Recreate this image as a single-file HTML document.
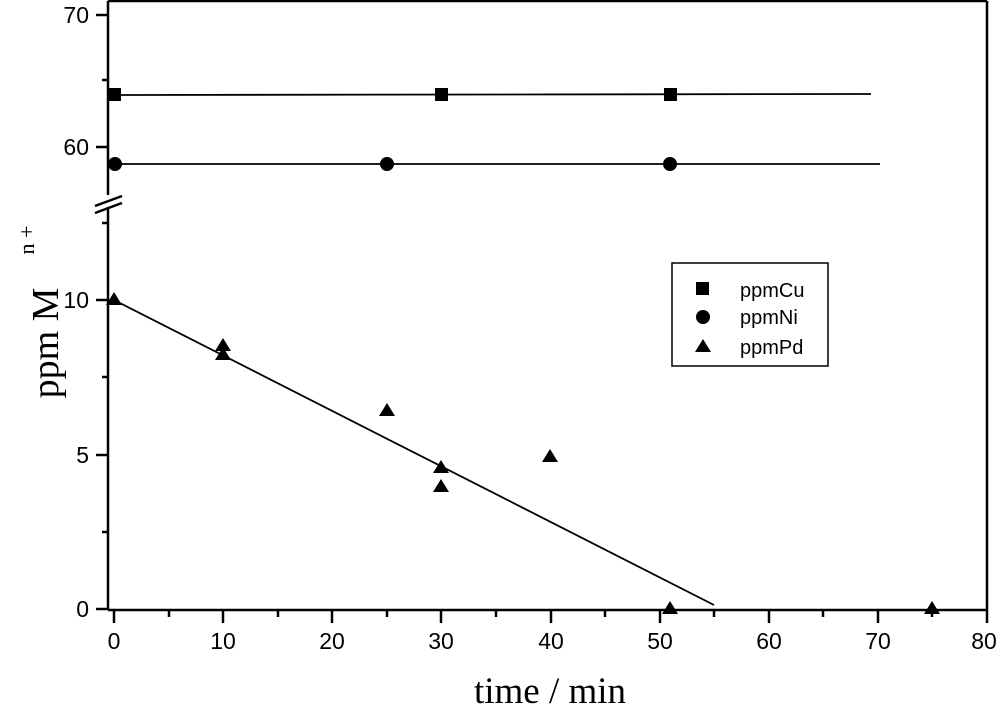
<!DOCTYPE html>
<html><head><style>body{margin:0;background:#fff}</style></head><body>
<svg width="1000" height="714" xmlns="http://www.w3.org/2000/svg" font-family="Liberation Sans, Arial, sans-serif">
<rect width="1000" height="714" fill="#fff"/>
<g stroke="#000" stroke-width="2.5" fill="none">
<line x1="108" y1="1" x2="987" y2="1"/>
<line x1="987" y1="1" x2="987" y2="610"/>
<line x1="108" y1="610" x2="987" y2="610"/>
<line x1="108" y1="1" x2="108" y2="195"/>
<line x1="108" y1="207" x2="108" y2="610"/>
</g>
<g stroke="#000" stroke-width="2.5">
<line x1="95" y1="206" x2="122" y2="196"/>
<line x1="95" y1="213" x2="122" y2="203"/>
<line x1="96" y1="15" x2="108" y2="15"/><line x1="102" y1="80" x2="108" y2="80"/><line x1="96" y1="147" x2="108" y2="147"/>
<line x1="96" y1="300" x2="108" y2="300"/><line x1="102" y1="377" x2="108" y2="377"/><line x1="96" y1="455" x2="108" y2="455"/><line x1="102" y1="532" x2="108" y2="532"/><line x1="96" y1="609" x2="108" y2="609"/><line x1="102" y1="223" x2="108" y2="223"/>
<line x1="114" y1="610" x2="114" y2="623"/><line x1="169" y1="610" x2="169" y2="617"/>
<line x1="223" y1="610" x2="223" y2="623"/><line x1="278" y1="610" x2="278" y2="617"/>
<line x1="332" y1="610" x2="332" y2="623"/><line x1="387" y1="610" x2="387" y2="617"/>
<line x1="441" y1="610" x2="441" y2="623"/><line x1="496" y1="610" x2="496" y2="617"/>
<line x1="551" y1="610" x2="551" y2="623"/><line x1="605" y1="610" x2="605" y2="617"/>
<line x1="660" y1="610" x2="660" y2="623"/><line x1="714" y1="610" x2="714" y2="617"/>
<line x1="769" y1="610" x2="769" y2="623"/><line x1="823" y1="610" x2="823" y2="617"/>
<line x1="878" y1="610" x2="878" y2="623"/><line x1="932" y1="610" x2="932" y2="617"/>
<line x1="987" y1="610" x2="987" y2="623"/>
</g>
<g font-size="23" text-anchor="end" fill="#000">
<text x="89" y="23">70</text><text x="89" y="155">60</text><text x="89" y="308">10</text><text x="89" y="463">5</text><text x="89" y="617">0</text>
</g>
<g font-size="23" text-anchor="middle" fill="#000">
<text x="114" y="649">0</text><text x="223" y="649">10</text><text x="332" y="649">20</text><text x="441" y="649">30</text><text x="551" y="649">40</text><text x="660" y="649">50</text><text x="769" y="649">60</text><text x="878" y="649">70</text><text x="984" y="649">80</text>
</g>
<text x="550" y="703" font-family="Liberation Serif, serif" font-size="37" text-anchor="middle">time / min</text>
<text transform="translate(58,343) rotate(-90)" font-family="Liberation Serif, serif" font-size="38" text-anchor="middle">ppm M</text>
<text transform="translate(34,240) rotate(-90)" font-family="Liberation Serif, serif" font-size="22" text-anchor="middle">n +</text>
<g stroke="#000" stroke-width="1.8">
<line x1="114" y1="95" x2="871" y2="94"/>
<line x1="114" y1="164" x2="880" y2="164"/>
<line x1="114" y1="300" x2="714" y2="605"/>
</g>
<g fill="#000">
<rect x="108" y="88" width="13" height="13"/><rect x="435" y="88" width="13" height="13"/><rect x="664" y="88" width="13" height="13"/>
<circle cx="115" cy="164" r="7"/><circle cx="387" cy="164" r="7"/><circle cx="670" cy="164" r="7"/>
<polygon points="114,292 106,305 122,305"/>
<polygon points="223,338 215,351 231,351"/><polygon points="223,347 215,360 231,360"/>
<polygon points="387,403 379,416 395,416"/><polygon points="441,460 433,473 449,473"/><polygon points="441,479 433,492 449,492"/>
<polygon points="550,449 542,462 558,462"/><polygon points="670,601 662,614 678,614"/><polygon points="932,601 924,614 940,614"/>
</g>
<rect x="672" y="263" width="156" height="103" fill="none" stroke="#000" stroke-width="1.5"/>
<g fill="#000">
<rect x="696" y="282" width="13" height="13"/>
<circle cx="703" cy="317" r="7"/>
<polygon points="703,339 695,352 711,352"/>
</g>
<g font-size="20" fill="#000">
<text x="740" y="297">ppmCu</text><text x="740" y="324">ppmNi</text><text x="740" y="354">ppmPd</text>
</g>
</svg>
</body></html>
